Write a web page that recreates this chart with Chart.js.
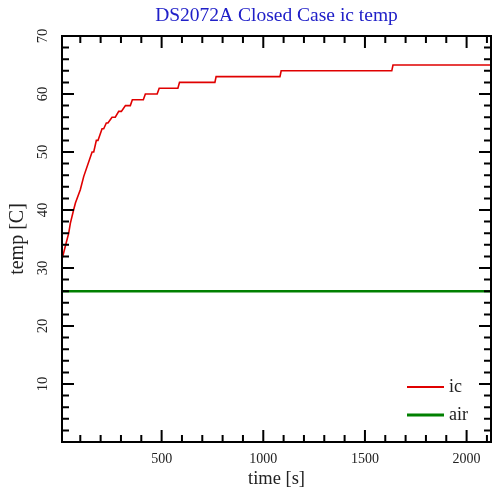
<!DOCTYPE html>
<html>
<head>
<meta charset="utf-8">
<script src="https://cdn.jsdelivr.net/npm/chart.js@4.4.0/dist/chart.umd.min.js"></script>
<style>
html,body{margin:0;padding:0;background:#fff;}
#wrap{width:500px;height:500px;}
</style>
</head>
<body>
<div id="wrap"><canvas id="c" width="500" height="500"></canvas></div>
<script>
// ---- data ----
const chartTitle = 'DS2072A Closed Case ic temp';
const xTitle = 'time [s]';
const yTitle = 'temp [C]';
const seriesLabels = ['ic', 'air'];
const icTime = [10, 26, 43, 51, 67, 76, 100, 117, 158, 166, 179, 187, 207, 215, 228, 236, 256, 272, 289, 302, 322, 346, 356, 410, 420, 478, 488, 580, 588, 762, 768, 1082, 1088, 1632, 1638, 2120];
const icTemp = [31.5, 33.7, 36, 37.7, 40, 41.2, 43.5, 45.8, 50, 50, 52, 52, 54, 54, 55, 55, 56, 56, 57, 57, 58, 58, 59, 59, 60, 60, 61, 61, 62, 62, 63, 63, 64, 64, 65, 65];
const airTime = [10, 2120];
const airTemp = [26, 26];
const xTickLabels = [500, 1000, 1500, 2000];
const yTickLabels = [10, 20, 30, 40, 50, 60, 70];
const xMinorStep = 100;
const yMinorStep = 2;
const xRange = [10, 2120];
const yRange = [0, 70];

const serif = "'Liberation Serif', 'DejaVu Serif', serif";
const seriesColors = ['#e00000', '#008000'];

function toPoints(xs, ys) { return xs.map((x, i) => ({x: x, y: ys[i]})); }
function stepTicks(lo, hi, step) {
  const out = [];
  for (let v = Math.ceil(lo / step) * step; v <= hi; v += step) out.push({value: v});
  return out;
}

const frame = {
  id: 'frame',
  afterDatasetsDraw(chart) {
    const {ctx, chartArea: a, scales} = chart;
    ctx.save();
    ctx.strokeStyle = '#000';
    ctx.lineWidth = 2;
    ctx.lineCap = 'butt';
    scales.x.ticks.forEach(t => {
      const v = t.value;
      if (v <= xRange[0] || v >= xRange[1]) return;
      const p = scales.x.getPixelForValue(v);
      const len = xTickLabels.includes(v) ? 12 : 7;
      ctx.beginPath();
      ctx.moveTo(p, a.bottom); ctx.lineTo(p, a.bottom - len);
      ctx.moveTo(p, a.top); ctx.lineTo(p, a.top + len);
      ctx.stroke();
    });
    scales.y.ticks.forEach(t => {
      const v = t.value;
      if (v <= yRange[0] || v >= yRange[1]) return;
      const p = scales.y.getPixelForValue(v);
      const len = yTickLabels.includes(v) ? 12 : 7;
      ctx.beginPath();
      ctx.moveTo(a.left, p); ctx.lineTo(a.left + len, p);
      ctx.moveTo(a.right, p); ctx.lineTo(a.right - len, p);
      ctx.stroke();
    });
    ctx.strokeRect(a.left, a.top, a.right - a.left, a.bottom - a.top);

    // legend, bottom-right inside the plot
    const ds = chart.data.datasets;
    ctx.font = '18px ' + serif;
    ctx.textBaseline = 'middle';
    ctx.textAlign = 'left';
    ds.forEach((d, i) => {
      const y = a.bottom - 55 + i * 28;
      const x0 = a.right - 84;
      ctx.beginPath();
      ctx.strokeStyle = d.borderColor;
      ctx.lineWidth = i === 0 ? 2 : 3;
      ctx.moveTo(x0, y); ctx.lineTo(x0 + 37, y);
      ctx.stroke();
      ctx.fillStyle = '#222';
      ctx.fillText(d.label, x0 + 42, y);
    });
    ctx.restore();
  }
};

new Chart(document.getElementById('c'), {
  type: 'scatter',
  data: {
    datasets: [
      { label: seriesLabels[0], data: toPoints(icTime, icTemp), showLine: true, borderColor: seriesColors[0], backgroundColor: seriesColors[0], borderWidth: 1.6, pointRadius: 0, tension: 0 },
      { label: seriesLabels[1], data: toPoints(airTime, airTemp), showLine: true, borderColor: seriesColors[1], backgroundColor: seriesColors[1], borderWidth: 2.6, pointRadius: 0, tension: 0 }
    ]
  },
  options: {
    responsive: false,
    animation: false,
    devicePixelRatio: 1,
    layout: { padding: { left: 0, right: 9, top: 0, bottom: 0 } },
    plugins: {
      legend: { display: false },
      tooltip: { enabled: false },
      title: {
        display: true, text: chartTitle, color: '#2020c8', fullSize: false,
        font: { family: serif, size: 19.5, weight: 'normal' },
        padding: { top: 4, bottom: 8.6 }
      }
    },
    scales: {
      x: {
        type: 'linear', min: xRange[0], max: xRange[1],
        grid: { display: false, drawTicks: false },
        border: { display: true, color: '#000', width: 2 },
        afterBuildTicks: s => { s.ticks = stepTicks(xRange[0], xRange[1], xMinorStep); },
        ticks: {
          autoSkip: false, maxRotation: 0, minRotation: 0,
          color: '#222', padding: 8.6,
          font: { family: serif, size: 14 },
          callback: v => xTickLabels.includes(v) ? String(v) : ''
        },
        title: { display: true, text: xTitle, color: '#222', font: { family: serif, size: 18.5 }, padding: { top: 0, bottom: 10 } },
        afterFit: s => { s.height = 58; }
      },
      y: {
        type: 'linear', min: yRange[0], max: yRange[1],
        grid: { display: false, drawTicks: false },
        border: { display: true, color: '#000', width: 2 },
        afterBuildTicks: s => { s.ticks = stepTicks(yRange[0], yRange[1], yMinorStep); },
        ticks: {
          autoSkip: false, minRotation: 90, maxRotation: 90, crossAlign: 'center',
          color: '#222', padding: 12,
          font: { family: serif, size: 14.5 },
          callback: v => yTickLabels.includes(v) ? String(v) : ''
        },
        title: { display: true, text: yTitle, color: '#222', font: { family: serif, size: 20 }, padding: { top: 6, bottom: 0 } },
        afterFit: s => { s.width = 62; }
      }
    }
  },
  plugins: [frame]
});
</script>
</body>
</html>
